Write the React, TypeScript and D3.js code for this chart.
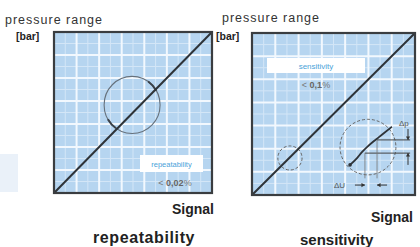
import * as d3 from "d3";

const W = 420;
const H = 247;

// both axes run 0..7 grid units
const domainMax = 7;
const majorTicks = [1, 2, 3, 4, 5, 6];
const minorTicks = [0.5, 1.5, 2.5, 3.5, 4.5, 5.5, 6.5];
const diagonal: [number, number][] = [[0, 0], [7, 7]];

// repeatability panel
const repCircle = { cx: 3.46, cy: 3.83, r: 1.24 };
// angles (deg) of the thick marks on the circle
const repMarkArcs: [number, number][] = [[30, 55], [210, 235]];

// sensitivity panel
const sensSmall = { cx: 1.63, cy: 1.6, r: 0.52 };
const sensBig = { cx: 4.98, cy: 2.07, r: 1.2 };
const sensCurve: [number, number][] = [
  [4.21, 1.3], [4.5, 1.58], [4.72, 1.85], [4.95, 2.08], [5.2, 2.3],
  [5.45, 2.5], [5.7, 2.7], [6.01, 2.95],
];
const dpLevels = [2.38, 1.81];
const duLevels = [5.37, 4.85];

function Panel({ x0, y0, x1, y1, children }: any) {
  const x = d3.scaleLinear().domain([0, domainMax]).range([x0, x1]);
  const y = d3.scaleLinear().domain([0, domainMax]).range([y1, y0]);
  const line = d3.line<[number, number]>().x((d) => x(d[0])).y((d) => y(d[1])).curve(d3.curveMonotoneX);
  return (
    <g>
      <rect x={x0} y={y0} width={x1 - x0} height={y1 - y0} fill="#b6d5f0" />
      {minorTicks.map((t) => (
        <g key={"m" + t}>
          <line x1={x(t)} x2={x(t)} y1={y0} y2={y1} stroke="#d3e6f7" strokeWidth={1} />
          <line x1={x0} x2={x1} y1={y(t)} y2={y(t)} stroke="#d3e6f7" strokeWidth={1} />
        </g>
      ))}
      {majorTicks.map((t) => (
        <g key={"M" + t}>
          <line x1={x(t)} x2={x(t)} y1={y0} y2={y1} stroke="#f2f8fe" strokeWidth={2} />
          <line x1={x0} x2={x1} y1={y(t)} y2={y(t)} stroke="#f2f8fe" strokeWidth={2} />
        </g>
      ))}
      {children(x, y, line)}
      <path d={d3.line()(diagonal.map((d) => [x(d[0]), y(d[1])])) || ""} stroke="#2e3338" strokeWidth={2} fill="none" />
      <rect x={x0} y={y0} width={x1 - x0} height={y1 - y0} fill="none" stroke="#3a3d40" strokeWidth={2.2} />
    </g>
  );
}

function Arrow({ xa, ya, xb, yb }: any) {
  const ang = Math.atan2(yb - ya, xb - xa);
  const s = 3.5;
  const p1 = [xb - s * Math.cos(ang) + s * 0.6 * Math.sin(ang), yb - s * Math.sin(ang) - s * 0.6 * Math.cos(ang)];
  const p2 = [xb - s * Math.cos(ang) - s * 0.6 * Math.sin(ang), yb - s * Math.sin(ang) + s * 0.6 * Math.cos(ang)];
  return (
    <g>
      <line x1={xa} y1={ya} x2={xb} y2={yb} stroke="#333" strokeWidth={1} />
      <path d={`M${xb},${yb}L${p1[0]},${p1[1]}L${p2[0]},${p2[1]}Z`} fill="#333" />
    </g>
  );
}

export default function App() {
  const font = "'Liberation Sans', Arial, Helvetica, sans-serif";
  return (
    <svg width={W} height={H} style={{ position: "absolute", left: 0, top: 0, background: "#fff" }} fontFamily={font}>
      <rect x={0} y={154} width={18} height={38} fill="#eaf1f9" />

      <text x={5} y={24} fontSize={12.5} fill="#333" textLength={97}>pressure range</text>
      <text x={16} y={40} fontSize={10.5} fontWeight="bold" fill="#222">[bar]</text>
      <Panel x0={54} y0={32} x1={212} y1={193}>
        {(x: any, y: any) => {
          const cx = x(repCircle.cx), cy = y(repCircle.cy);
          const rx = x(repCircle.r) - x(0), ry = y(0) - y(repCircle.r);
          const pt = (a: number) => [cx + rx * Math.cos((a * Math.PI) / 180), cy - ry * Math.sin((a * Math.PI) / 180)];
          return (
            <g>
              <ellipse cx={cx} cy={cy} rx={rx} ry={ry} fill="none" stroke="#66717c" strokeWidth={1.1} />
              {repMarkArcs.map((a, i) => {
                const p = pt(a[0]), q = pt(a[1]);
                return (
                  <path key={i} d={`M${p[0]},${p[1]}A${rx},${ry} 0 0 0 ${q[0]},${q[1]}`}
                    fill="none" stroke="#3b4249" strokeWidth={2} />
                );
              })}
              <rect x={140} y={155} width={63} height={17} fill="#ffffff" />
              <text x={171.5} y={167} fontSize={7.5} fill="#4aa3d9" textAnchor="middle">repeatability</text>
              <text x={175} y={186} fontSize={9} fill="#777" textAnchor="middle">
                {"< "}<tspan fontWeight="bold" fill="#666">0,02</tspan>%
              </text>
            </g>
          );
        }}
      </Panel>
      <text x={172} y={214} fontSize={14} fontWeight="bold" fill="#222">Signal</text>
      <text x={93} y={243} fontSize={16} fontWeight="bold" fill="#222" letterSpacing={0.6}>repeatability</text>

      <text x={222} y={22} fontSize={12.5} fill="#333" textLength={97}>pressure range</text>
      <text x={216} y={40} fontSize={10.5} fontWeight="bold" fill="#222">[bar]</text>
      <Panel x0={252} y0={33} x1={415} y1={195}>
        {(x: any, y: any, line: any) => (
          <g>
            <rect x={267} y={58} width={98} height={15} fill="#ffffff" />
            <text x={316} y={69} fontSize={8} fill="#4aa3d9" textAnchor="middle">sensitivity</text>
            <text x={316} y={88} fontSize={9} fill="#777" textAnchor="middle">
              {"< "}<tspan fontWeight="bold" fill="#666">0,1</tspan>%
            </text>
            {[sensSmall, sensBig].map((c, i) => (
              <ellipse key={i} cx={x(c.cx)} cy={y(c.cy)}
                rx={x(c.r) - x(0)} ry={y(0) - y(c.r)}
                fill="none" stroke="#666" strokeWidth={1} strokeDasharray="3,2" />
            ))}
            <path d={line(sensCurve)} fill="none" stroke="#2e3338" strokeWidth={1.8} />
            <circle cx={x(sensCurve[0][0])} cy={y(sensCurve[0][1])} r={1.8} fill="#2e3338" />
            {dpLevels.map((lv, i) => (
              <line key={"h" + i} x1={x(duLevels[i])} x2={x(6.79)} y1={y(lv)} y2={y(lv)} stroke="#444" strokeWidth={1} />
            ))}
            {duLevels.map((lv, i) => (
              <line key={"v" + i} x1={x(lv)} x2={x(lv)} y1={y(dpLevels[i])} y2={y(0.72)} stroke="#777" strokeWidth={0.8} />
            ))}
            <Arrow xa={x(6.7)} ya={y(2.85)} xb={x(6.7)} yb={y(dpLevels[0])} />
            <Arrow xa={x(6.7)} ya={y(1.3)} xb={x(6.7)} yb={y(dpLevels[1])} />
            <Arrow xa={x(4.42)} ya={y(0.43)} xb={x(duLevels[1])} yb={y(0.43)} />
            <Arrow xa={x(5.8)} ya={y(0.43)} xb={x(duLevels[0])} yb={y(0.43)} />
            <text x={399} y={126} fontSize={8} fill="#555">Δp</text>
            <text x={334} y={188} fontSize={8} fill="#555">ΔU</text>
          </g>
        )}
      </Panel>
      <text x={371} y={222} fontSize={14} fontWeight="bold" fill="#222">Signal</text>
      <text x={300} y={245} fontSize={15} fontWeight="bold" fill="#222">sensitivity</text>
    </svg>
  );
}
